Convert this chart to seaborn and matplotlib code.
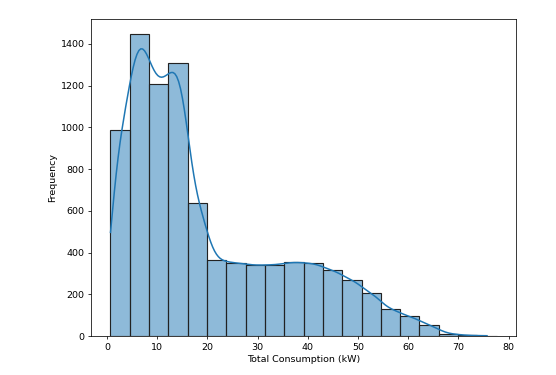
import numpy as np
import pandas as pd
import matplotlib
matplotlib.use("Agg")
import matplotlib.pyplot as plt
import seaborn as sns

# Histogram: 20 bins between these limits
bin_low = 0.7
bin_high = 77.6
counts = [986, 1446, 1208, 1310, 637, 362, 350, 339, 341, 354,
          348, 315, 269, 205, 128, 94, 53, 11, 3, 1]
x_label = "Total Consumption (kW)"
y_label = "Frequency"

edges = np.linspace(bin_low, bin_high, len(counts) + 1)
# expand the counts into observations spread evenly inside each bin
samples = []
for lo, hi, n in zip(edges[:-1], edges[1:], counts):
    w = hi - lo
    samples.append(lo + (np.arange(n) + 0.5) / n * w)
df = pd.DataFrame({"consumption": np.concatenate(samples)})

DPI = 68.5
fig, ax = plt.subplots(figsize=(556 / DPI, 375 / DPI), dpi=DPI)
fig.subplots_adjust(left=0.164, right=0.928, top=0.949, bottom=0.104)

sns.histplot(data=df, x="consumption", bins=edges, kde=True, ax=ax,
             color="#1f77b4", alpha=0.5, edgecolor="#222222", linewidth=1.2,
             kde_kws={"bw_adjust": 0.6}, line_kws={"linewidth": 1.6})

ax.set_xlabel(x_label)
ax.set_ylabel(y_label)
ax.set_xticks(np.arange(0, 81, 10))
ax.set_yticks(np.arange(0, 1401, 200))

fig.savefig("out.png", dpi=DPI)
